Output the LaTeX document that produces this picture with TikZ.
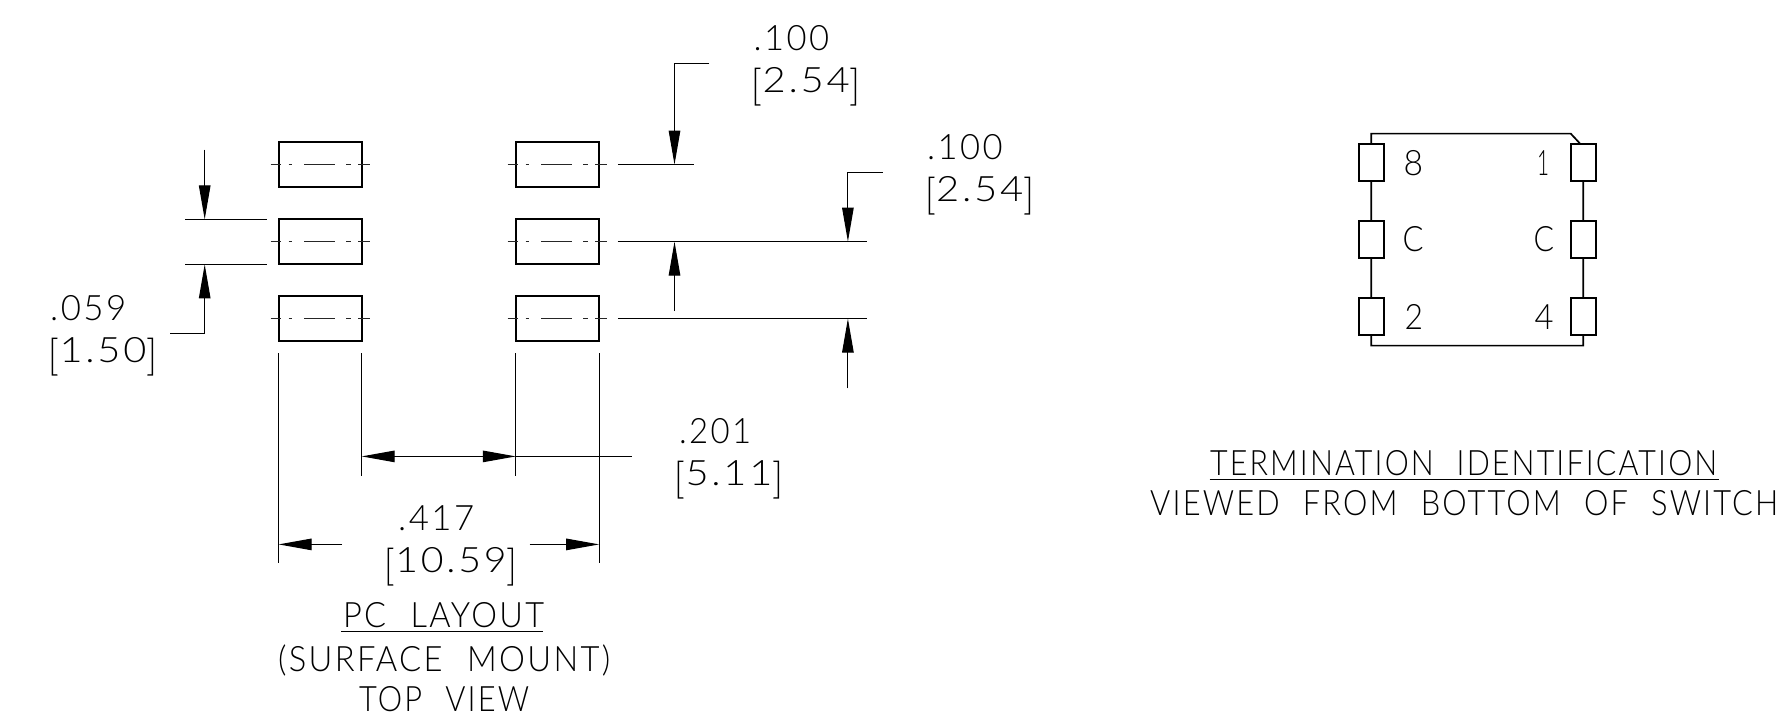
\documentclass[tikz,border=0pt]{standalone}
\usepackage{fontspec}
\usepackage{graphicx}
\usetikzlibrary{arrows.meta}
\newfontfamily\cadfont[LetterSpace=7,WordSpace=2.2]{Lato Light}
\newcommand\lbr{\raisebox{-8pt}{\resizebox*{9.5pt}{38pt}{[}}}
\newcommand\rbr{\raisebox{-8pt}{\resizebox*{9.5pt}{38pt}{]}}}
\tikzset{
  thin line/.style={line width=1.1pt,black},
  padbox/.style={draw,line width=1.9pt,inner sep=0pt,minimum width=83pt,minimum height=45.5pt},
  termbox/.style={draw,fill=white,line width=1.8pt,inner sep=0pt,minimum width=25.3pt,minimum height=36.4pt},
  centre line/.style={line width=1.3pt,black!85,dash pattern=on 10.5pt off 7.5pt on 3.5pt off 12pt on 31pt off 11pt on 5pt off 7pt on 12pt},
  dim tip/.style={-{Triangle[length=34pt,width=11.5pt]},line width=1.1pt,black},
  cadtext/.style={font=\cadfont\fontsize{35}{35}\selectfont,anchor=base west,inner sep=0pt,text=black}
}
\newcommand\cadlabel[5]{\node[cadtext] (#1) at (#2,#3) {\resizebox*{#4pt}{\totalheight}{#5}};}
\begin{document}
\begin{tikzpicture}[x=1pt,y=-1pt]
\useasboundingbox[fill=white] (0,0) rectangle (1781,720);
% pads
\foreach \n/\yy in {1/164.6,2/241.6,3/318.6}{
  \node[padbox] (L\n) at (320.1,\yy) {};
  \node[padbox] (R\n) at (557.2,\yy) {};
  \draw[centre line] ([xshift=-49.5pt]L\n.center) -- ([xshift=50.5pt]L\n.center);
  \draw[centre line] ([xshift=-49.5pt]R\n.center) -- ([xshift=50.5pt]R\n.center);
}
% left dimension .059
\draw[thin line] (185,219.4) -- (267,219.4);
\draw[thin line] (185,264.4) -- (267,264.4);
\draw[dim tip] (204.7,149.7) -- (204.7,219.4);
\draw[dim tip] (170,333.4) -- (204.7,333.4) -- (204.7,264.4);
% right dimensions .100
\draw[thin line] (617.9,164.6) -- (694,164.6);
\draw[thin line] (617.9,241.6) -- (867.4,241.6);
\draw[line width=1.7pt] (617.9,241.6) -- (694,241.6);
\draw[thin line] (617.9,318.6) -- (867.4,318.6);
\draw[dim tip] (709.3,63.6) -- (674.5,63.6) -- (674.5,164.6);
\draw[dim tip] (674.5,311) -- (674.5,241.6);
\draw[dim tip] (882.7,172.4) -- (847.9,172.4) -- (847.9,241.6);
\draw[dim tip] (847.9,388.3) -- (847.9,318.6);
% vertical extension lines
\draw[thin line] (278.6,353) -- (278.6,563);
\draw[thin line] (361.7,353) -- (361.7,475.7);
\draw[thin line] (515.8,353) -- (515.8,475.7);
\draw[thin line] (599.2,353) -- (599.2,563);
% .201
\draw[thin line] (515.8,456.4) -- (632,456.4);
\draw[dim tip,{Triangle[length=33pt,width=11.5pt]}-{Triangle[length=33pt,width=11.5pt]}] (361.7,456.4) -- (515.8,456.4);
% .417
\draw[dim tip,-{Triangle[length=33pt,width=11.5pt]}] (342,544.4) -- (278.6,544.4);
\draw[dim tip,-{Triangle[length=33pt,width=11.5pt]}] (529.7,544.4) -- (599.2,544.4);
% labels
\cadlabel{a1}{50}{320}{76}{.059}
\cadlabel{a2}{48.5}{362}{108.5}{\lbr 1.50\rbr}
\cadlabel{b1}{753.5}{50.7}{75.5}{.100}
\cadlabel{b2}{751.5}{92.7}{109}{\lbr 2.54\rbr}
\cadlabel{c1}{927}{159.3}{75.5}{.100}
\cadlabel{c2}{925}{201.5}{109}{\lbr 2.54\rbr}
\cadlabel{d1}{679}{443}{72}{.201}
\cadlabel{d2}{674.5}{485}{108.5}{\lbr 5.11\rbr}
\cadlabel{e1}{398}{530.7}{76}{.417}
\cadlabel{e2}{384.5}{572.7}{132.5}{\lbr 10.59\rbr}
\cadlabel{f1}{343}{627.3}{201}{PC LAYOUT}
\cadlabel{f2}{278}{671.7}{332}{(SURFACE MOUNT)}
\cadlabel{f3}{359}{711.7}{170}{TOP VIEW}
\draw[thin line] (341,631.6) -- (543,631.6);
% termination view
\draw[line width=1.7pt] (1583.3,144.3) -- (1583.3,345.6) -- (1371.3,345.6) -- (1371.3,133.6) -- (1570.7,133.6) -- (1580.7,144.3);
\foreach \n/\yy in {1/162.5,2/239.5,3/316.5}{
  \node[termbox] (TL\n) at (1371.6,\yy) {};
  \node[termbox] (TR\n) at (1583.3,\yy) {};
}
\cadlabel{g1}{1403.5}{175}{19.5}{8}
\cadlabel{g2}{1402.5}{251.7}{21}{C}
\cadlabel{g3}{1404.5}{329}{18.5}{2}
\cadlabel{h1}{1537}{175}{12}{1}
\cadlabel{h2}{1533.5}{251.7}{20.5}{C}
\cadlabel{h3}{1534.5}{329}{19}{4}
\cadlabel{k1}{1210}{475}{507}{TERMINATION IDENTIFICATION}
\cadlabel{k2}{1150}{515}{628}{VIEWED FROM BOTTOM OF SWITCH}
\draw[thin line] (1209.7,479.4) -- (1719,479.4);
\end{tikzpicture}
\end{document}
